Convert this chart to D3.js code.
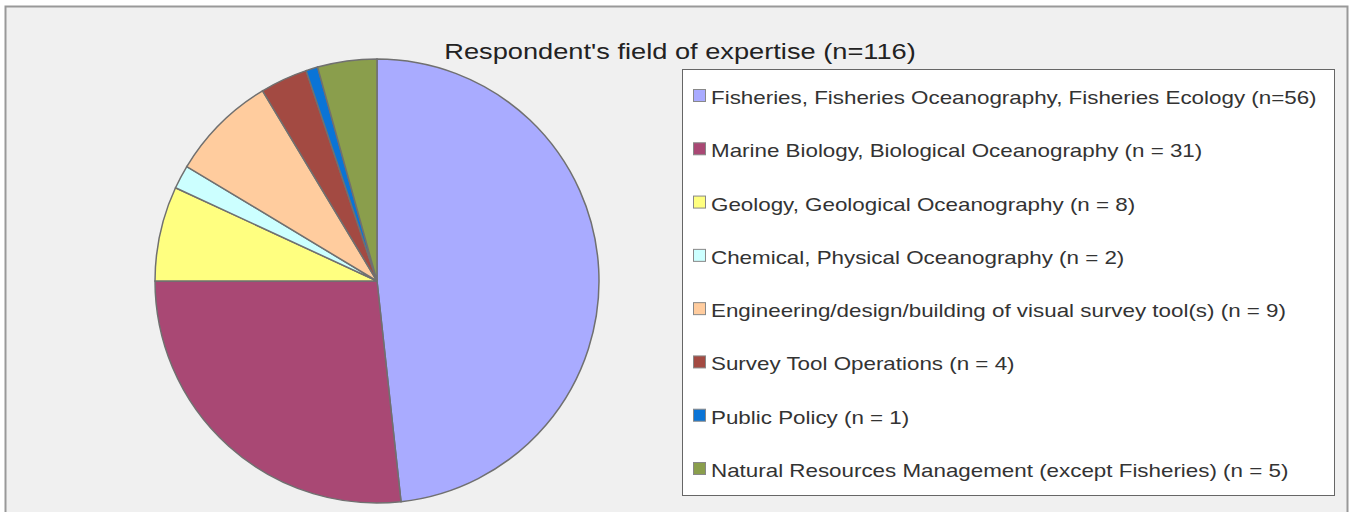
<!DOCTYPE html>
<html lang="en">
<head>
    <meta charset="utf-8">
    <script src="https://cdn.jsdelivr.net/npm/d3@7"></script>
    <style>
        body { margin: 0; background: #fff; }
        svg { display: block; font-family: "Liberation Sans", Arial, sans-serif; }
    </style>
</head>
<body>
<div id="chart"></div>
<script>
    // data
    var labels = [
        "Fisheries, Fisheries Oceanography, Fisheries Ecology (n=56)",
        "Marine Biology, Biological Oceanography (n = 31)",
        "Geology, Geological Oceanography (n = 8)",
        "Chemical, Physical Oceanography (n = 2)",
        "Engineering/design/building of visual survey tool(s) (n = 9)",
        "Survey Tool Operations (n = 4)",
        "Public Policy (n = 1)",
        "Natural Resources Management (except Fisheries) (n = 5)"
    ]
    var counts = [56, 31, 8, 2, 9, 4, 1, 5]
    var colors = ["#a9abff", "#a94874", "#ffff80", "#ccffff", "#ffcc9e", "#a34a42", "#0a74d6", "#8a9e4c"]
    var title = "Respondent's field of expertise (n=116)"

    var width = 1351
        height = 512
        stretch = 1.21   // text in the reference is drawn wider than normal

    var svg = d3.select("#chart")
        .append("svg")
            .attr("width", width)
            .attr("height", height)

    // outer frame
    svg.append("rect")
        .attr("x", 5.5).attr("y", 6.5)
        .attr("width", 1342).attr("height", 520)
        .attr("fill", "#f0f0f0")
        .attr("stroke", "#999")
        .attr("stroke-width", 2)

    svg.append("text")
        .attr("transform", "translate(680,59) scale(" + stretch + ",1)")
        .attr("text-anchor", "middle")
        .attr("font-size", 22.5)
        .attr("fill", "#222")
        .text(title)

    var radius = 222
    var g = svg.append("g")
        .attr("transform", "translate(377,281)")

    var pie = d3.pie()
        .sort(null)
        .value(function(d) { return d.value })
    var data_ready = pie(counts.map(function(c, i) { return {key: labels[i], value: c} }))

    var color = d3.scaleOrdinal()
        .domain(labels)
        .range(colors)

    g.selectAll("path")
        .data(data_ready)
        .enter()
        .append("path")
        .attr("d", d3.arc().innerRadius(0).outerRadius(radius))
        .attr("fill", function(d) { return color(d.data.key) })
        .attr("stroke", "#707070")
        .style("stroke-width", "1.5px")

    // legend
    svg.append("rect")
        .attr("x", 682.5).attr("y", 69.5)
        .attr("width", 652).attr("height", 426)
        .attr("fill", "#fff")
        .attr("stroke", "#666")

    var y = d3.scalePoint()
        .domain(labels)
        .range([95, 468])

    var item = svg.selectAll(".item")
        .data(labels)
        .enter()
        .append("g")
        .attr("transform", function(d) { return "translate(693," + y(d) + ")" })

    item.append("rect")
        .attr("x", 0.5).attr("y", -5.5)
        .attr("width", 12).attr("height", 12)
        .attr("fill", function(d) { return color(d) })
        .attr("stroke", "#888")

    item.append("text")
        .attr("transform", "translate(18,9) scale(" + stretch + ",1)")
        .attr("font-size", 18.5)
        .attr("fill", "#333")
        .text(function(d) { return d })
</script>
</body>
</html>
